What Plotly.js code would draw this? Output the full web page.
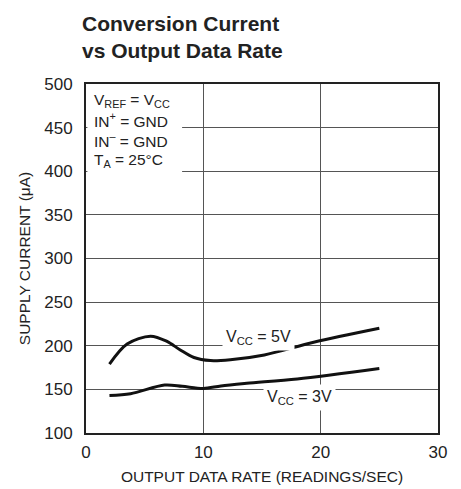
<!DOCTYPE html>
<html>
<head>
<meta charset="utf-8">
<script src="https://cdn.plot.ly/plotly-3.0.1.min.js"></script>
<style>html,body{margin:0;padding:0;background:#fff;}#chart{width:461px;height:489px;}</style>
</head>
<body>
<div id="chart"></div>
<script>
// Data
const rate5V = [2, 3.5, 5.5, 6.9, 8, 9.2, 10.6, 12.3, 15.2, 19.4, 25];
const current5V = [179, 202, 211, 205, 195.5, 186.5, 183, 184, 189.5, 204, 220];
const rate3V = [2, 3.8, 6.7, 8.2, 10, 11.5, 13.7, 18, 25];
const current3V = [143, 145, 155, 153.5, 151, 154, 157, 162, 174];
const xTicks = [0, 10, 20, 30];
const yTicks = [100, 150, 200, 250, 300, 350, 400, 450, 500];
const conditionLines = ['V<sub>REF</sub> = V<sub>CC</sub>', 'IN<sup>+</sup> = GND', 'IN<sup>–</sup> = GND', 'T<sub>A</sub> = 25°C'];

const FONT = '"Liberation Sans", Arial, sans-serif';
const lineStyle = {color: '#111', width: 3, shape: 'spline', smoothing: 0.9};

const traces = [
  {x: rate5V, y: current5V, mode: 'lines', line: lineStyle, hoverinfo: 'skip'},
  {x: rate3V, y: current3V, mode: 'lines', line: lineStyle, hoverinfo: 'skip'}
];

const axisCommon = {
  showgrid: true, gridcolor: '#555', gridwidth: 1,
  showline: true, linecolor: '#222', linewidth: 2, mirror: true,
  zeroline: false, ticks: '',
  tickfont: {family: FONT, size: 17, color: '#222'}
};

// condition block: one annotation per line, stacked 20 px apart
const plotH = 489 - 84 - 56;
const condAnnots = conditionLines.map((t, i) => ({
  xref: 'paper', yref: 'paper', x: 0.018, y: 1 - (16 + 20 * i) / plotH,
  xanchor: 'left', yanchor: 'middle', align: 'left', showarrow: false,
  text: t, font: {family: FONT, size: 15.5, color: '#222'}
}));

const layout = {
  width: 461, height: 489,
  margin: {l: 86, r: 23, t: 84, b: 56},
  paper_bgcolor: '#fff', plot_bgcolor: '#fff',
  showlegend: false,
  font: {family: FONT, color: '#222'},
  xaxis: Object.assign({}, axisCommon, {
    range: [0, 30], tickvals: xTicks, ticklabelstandoff: 3,
    title: {text: 'OUTPUT DATA RATE (READINGS/SEC)', font: {family: FONT, size: 15.5, color: '#222'}, standoff: 10}
  }),
  yaxis: Object.assign({}, axisCommon, {
    range: [100, 500], tickvals: yTicks, ticklabelstandoff: 8,
    title: {text: 'SUPPLY CURRENT (μA)', font: {family: FONT, size: 15.5, color: '#222'}, standoff: 10}
  }),
  shapes: [
    {type: 'rect', xref: 'paper', yref: 'paper', x0: 0.004, x1: 0.273, y0: 0.731, y1: 0.996,
     fillcolor: '#fff', line: {width: 0}, layer: 'above'}
  ],
  annotations: [
    {xref: 'paper', yref: 'paper', x: 0, y: 1, xanchor: 'left', yanchor: 'bottom',
     xshift: -6, yshift: 20,
     text: '<b>Conversion Current<br>vs Output Data Rate</b>', align: 'left', showarrow: false,
     font: {family: FONT, size: 21, color: '#222'}},
    ...condAnnots,
    {x: 11.6, y: 209, xanchor: 'left', yanchor: 'middle',
     text: 'V<sub>CC</sub> = 5V', showarrow: false, bgcolor: '#fff', borderpad: 3,
     font: {family: FONT, size: 16, color: '#222'}},
    {x: 15.1, y: 140.5, xanchor: 'left', yanchor: 'middle',
     text: 'V<sub>CC</sub> = 3V', showarrow: false, bgcolor: '#fff', borderpad: 3,
     font: {family: FONT, size: 16, color: '#222'}}
  ]
};

Plotly.newPlot('chart', traces, layout, {staticPlot: true, displayModeBar: false});
</script>
</body>
</html>
